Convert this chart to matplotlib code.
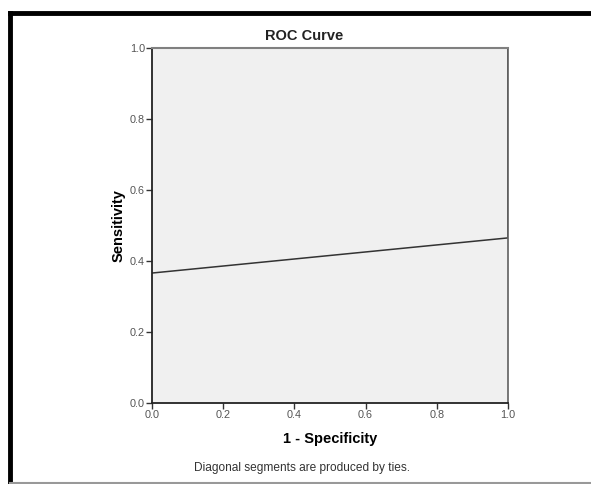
import matplotlib
matplotlib.use("Agg")
import matplotlib.pyplot as plt
from matplotlib.lines import Line2D

plt.rcParams["font.family"] = ["Liberation Sans", "DejaVu Sans"]

# ROC curve points (1 - specificity, sensitivity)
fpr = [0.0, 1.0, 1.0]
tpr = [0.366, 0.465, 1.0]
ticks = [0.0, 0.2, 0.4, 0.6, 0.8, 1.0]
tick_labels = ["0.0", "0.2", "0.4", "0.6", "0.8", "1.0"]

fig = plt.figure(figsize=(5.91, 4.84), dpi=100)
ax = fig.add_axes([0.2572, 0.1674, 0.6024, 0.7335])
ax.set_facecolor("#f0f0f0")

ax.plot(fpr, tpr, color="#333333", lw=1.1)

ax.set_xlim(0, 1)
ax.set_ylim(0, 1)
ax.set_xticks(ticks)
ax.set_yticks(ticks)
ax.set_xticklabels(tick_labels)
ax.set_yticklabels(tick_labels)
ax.tick_params(axis="both", direction="out", length=4, width=1, color="#333333",
               labelsize=7.8, labelcolor="#555555", pad=1)

ax.spines["left"].set_color("#222222")
ax.spines["bottom"].set_color("#222222")
ax.spines["left"].set_linewidth(1.3)
ax.spines["bottom"].set_linewidth(1.3)
ax.spines["top"].set_color("#808080")
ax.spines["right"].set_color("#606060")
ax.spines["top"].set_linewidth(1.5)
ax.spines["right"].set_linewidth(1.2)

ax.set_xlabel("1 - Specificity", fontsize=10.5, fontweight="bold", labelpad=9)
ax.set_ylabel("Sensitivity", fontsize=10.5, fontweight="bold", labelpad=3)

fig.text(304 / 591, 1 - 36 / 484, "ROC Curve", ha="center", va="center",
         fontsize=10.5, fontweight="bold", color="#222222")
fig.text(302 / 591, 1 - 468 / 484, "Diagonal segments are produced by ties.",
         ha="center", va="center", fontsize=8.6, color="#333333")

# outer frame of the output window
fig.add_artist(Line2D([10 / 591, 1], [1 - 13 / 484, 1 - 13 / 484],
                      transform=fig.transFigure, color="black", lw=3.5))
fig.add_artist(Line2D([10 / 591, 10 / 591], [0, 1 - 13 / 484],
                      transform=fig.transFigure, color="black", lw=3.5))
fig.add_artist(Line2D([10 / 591, 1], [1 - 483 / 484, 1 - 483 / 484],
                      transform=fig.transFigure, color="#999999", lw=1.5))

fig.savefig("out.png", dpi=100)
